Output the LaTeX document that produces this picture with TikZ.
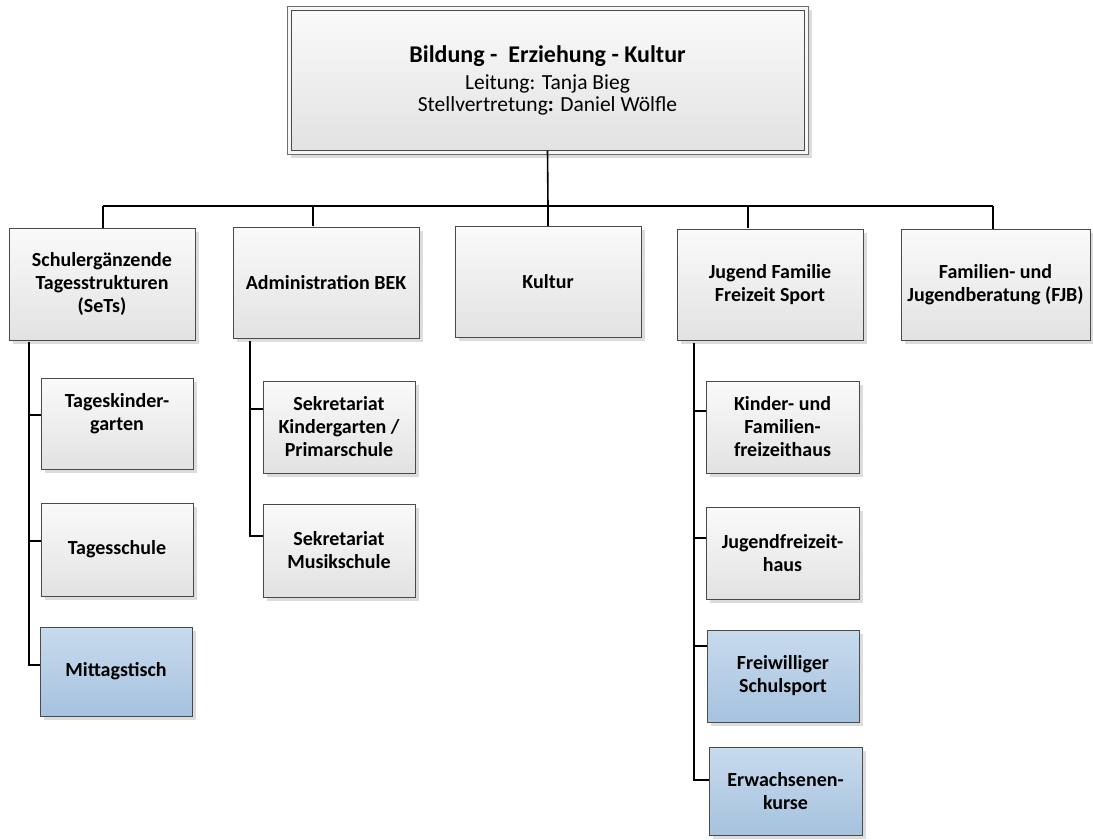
\documentclass[tikz,border=0pt]{standalone}
\usepackage{fontspec}
\setmainfont{Carlito}
\usetikzlibrary{shadows}
\definecolor{gtop}{HTML}{FAFAFA}
\definecolor{gbot}{HTML}{E2E2E2}
\definecolor{btop}{HTML}{C8DBEE}
\definecolor{bbot}{HTML}{A6C2DE}
\definecolor{edgec}{HTML}{4A4A4A}
\definecolor{shad}{HTML}{DCDCDC}
\tikzset{
  shad/.style={drop shadow={shadow xshift=3.5pt, shadow yshift=-3.5pt, fill=shad, opacity=1}},
  orgbox/.style={draw=edgec, line width=0.9pt, top color=gtop, bottom color=gbot,
    align=center, inner sep=2pt, shad,
    font=\fontsize{20}{23}\selectfont\bfseries},
  bluebox/.style={orgbox, top color=btop, bottom color=bbot},
  link/.style={draw=black, line width=1.6pt},
}
\begin{document}
\begin{tikzpicture}[x=1pt, y=-1pt]
\fill[white] (0,0) rectangle (1093,839);
\useasboundingbox (0,0) rectangle (1093,839);

% top box (double border)
\node[draw=edgec!80, line width=1pt, fill=white!94!gray, minimum width=521, minimum height=148, inner sep=0pt, shad] (topouter) at (547.5,80) {};
\node[draw=edgec, line width=1pt, top color=gtop, bottom color=gbot, minimum width=513, minimum height=140, align=center, inner sep=0pt,
  font=\fontsize{21.5}{22}\selectfont] (top) at (547.5,80)
  {{\fontsize{24}{26}\selectfont\bfseries Bildung -\ \ Erziehung - Kultur}\\[5pt]Leitung: Tanja Bieg\\Stellvertretung{\bfseries :} Daniel Wölfle};

% level 2
\node[orgbox, minimum width=186, minimum height=112] (sets) at (102,284) {Schulergänzende\\Tagesstrukturen\\(SeTs)};
\node[orgbox, minimum width=186, minimum height=111] (adm) at (326,282.5) {Administration BEK};
\node[orgbox, minimum width=186, minimum height=111] (kult) at (548,281.5) {Kultur};
\node[orgbox, minimum width=186, minimum height=111] (jug) at (770,284.5) {Jugend Familie\\Freizeit Sport};
\node[orgbox, minimum width=189, minimum height=111] (fjb) at (995.5,284.5) {Familien- und\\Jugendberatung (FJB)};

% level 3 under SeTs
\node[orgbox, minimum width=152, minimum height=91, text depth=24pt] (tkg) at (117,423.5) {Tageskinder-\\garten};
\node[orgbox, minimum width=152, minimum height=93] (tsch) at (117,549.5) {Tagesschule};
\node[bluebox, minimum width=152, minimum height=89] (mitt) at (116,671.5) {Mittagstisch};

% level 3 under Administration
\node[orgbox, minimum width=152, minimum height=92] (sk1) at (339,427) {Sekretariat\\Kindergarten /\\Primarschule};
\node[orgbox, minimum width=152, minimum height=93] (sk2) at (339,550.5) {Sekretariat\\Musikschule};

% level 3 under Jugend
\node[orgbox, minimum width=153, minimum height=92] (kfh) at (782.5,427) {Kinder- und\\Familien-\\freizeithaus};
\node[orgbox, minimum width=153, minimum height=92] (jfh) at (782.5,553) {Jugendfreizeit-\\haus};
\node[bluebox, minimum width=152, minimum height=92] (fws) at (783,676) {Freiwilliger\\Schulsport};
\node[bluebox, minimum width=153, minimum height=88] (erw) at (785.5,791) {Erwachsenen-\\kurse};

% bus
\coordinate (bus) at (548,206);
\coordinate (busL) at (103,206);
\coordinate (busR) at (993,206);
\coordinate (admtop) at (313,226);
\coordinate (jugtop) at (748,228);
\draw[link] (top.south) -- (bus);
\draw[link] (busL) -- (busR);
\draw[link] (busL) -- (sets.north -| busL);
\draw[link] (admtop |- bus) -- (admtop);
\draw[link] (bus) -- (kult.north);
\draw[link] (jugtop |- bus) -- (jugtop);
\draw[link] (busR) -- (fjb.north -| busR);

% SeTs column
\coordinate (s1) at (29,342);
\coordinate (s2) at (29,665);
\coordinate (sk) at (29,415);
\coordinate (ss) at (29,541);
\draw[link] (s1) -- (s2) -- (mitt.west |- s2);
\draw[link] (sk) -- (tkg.west |- sk);
\draw[link] (ss) -- (tsch.west |- ss);

% Administration column
\coordinate (a1) at (250,341);
\coordinate (a2) at (250,536);
\coordinate (ak) at (250,409);
\draw[link] (a1) -- (a2) -- (sk2.west |- a2);
\draw[link] (ak) -- (sk1.west |- ak);

% Jugend column
\coordinate (j1) at (694,343);
\coordinate (j2) at (694,780);
\coordinate (jk) at (694,411);
\coordinate (jj) at (694,538);
\coordinate (jf) at (694,646);
\draw[link] (j1) -- (j2) -- (erw.west |- j2);
\draw[link] (jk) -- (kfh.west |- jk);
\draw[link] (jj) -- (jfh.west |- jj);
\draw[link] (jf) -- (fws.west |- jf);
\end{tikzpicture}
\end{document}
